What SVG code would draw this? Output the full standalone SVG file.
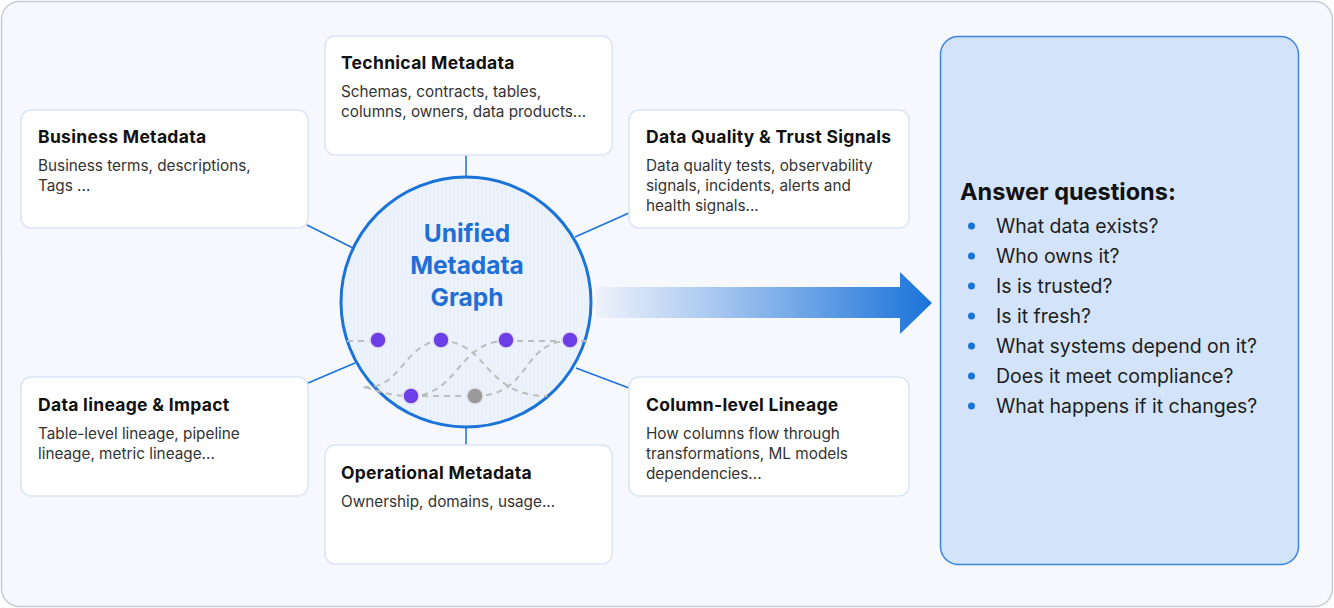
<svg xmlns="http://www.w3.org/2000/svg" width="1334" height="608" viewBox="0 0 1334 608">
<defs>
<linearGradient id="arrowGrad" x1="596" y1="0" x2="932" y2="0" gradientUnits="userSpaceOnUse">
<stop offset="0" stop-color="#eef2fb"/>
<stop offset="0.35" stop-color="#a9c8f0"/>
<stop offset="1" stop-color="#1a73d9"/>
</linearGradient>
<pattern id="dots" width="4" height="4" patternUnits="userSpaceOnUse">
<rect width="4" height="4" fill="#ebf2fb"/>
<circle cx="2" cy="2" r="0.5" fill="#dde7f5"/>
</pattern>
</defs>
<style>
.card{fill:#ffffff;stroke:#dae5f5;stroke-width:1.5}
.title{font-family:Inter,"Liberation Sans",sans-serif;font-weight:700;font-size:17.5px;letter-spacing:0.3px;fill:#111111}
.body{font-family:Inter,"Liberation Sans",sans-serif;font-size:15.3px;fill:#333333}
.conn{stroke:#1a73d9;stroke-width:1.5;fill:none}
.dash{stroke:#bdbdbd;stroke-width:2;stroke-dasharray:6 5;fill:none}
.node{fill:#6b3ee8;stroke:#e4e0f2;stroke-width:1.5}
.q{font-family:Inter,"Liberation Sans",sans-serif;font-size:19.5px;fill:#1e1e1e}
.bul{fill:#1a73d9}
.center{font-family:Inter,"Liberation Sans",sans-serif;font-weight:700;font-size:24.5px;fill:#1f6fd6;text-anchor:middle}
</style>
<rect x="1.5" y="1.5" width="1331" height="605" rx="18" fill="#f6f8fe" stroke="#c7cbd7" stroke-width="1.5"/>

<g id="connectors">
<line class="conn" x1="466" y1="155" x2="466" y2="178"/>
<line class="conn" x1="466" y1="426" x2="466" y2="445"/>
<line class="conn" x1="307" y1="225" x2="353" y2="248"/>
<line class="conn" x1="575" y1="237" x2="629" y2="213"/>
<line class="conn" x1="308" y1="383" x2="355" y2="363"/>
<line class="conn" x1="576" y1="368" x2="629" y2="388"/>
<path d="M596 287 H900 V272 L932 303 L900 334 V318 H596 Z" fill="url(#arrowGrad)"/>
</g>

<g id="business">
<rect class="card" x="21" y="110" width="287" height="118" rx="10"/>
<text class="title" x="38" y="143">Business Metadata</text>
<text class="body" x="38" y="171">Business terms, descriptions,</text>
<text class="body" x="38" y="191">Tags ...</text>
</g>

<g id="technical">
<rect class="card" x="325" y="36" width="287" height="119" rx="10"/>
<text class="title" x="341" y="69">Technical Metadata</text>
<text class="body" x="341" y="97">Schemas, contracts, tables,</text>
<text class="body" x="341" y="117">columns, owners, data products...</text>
</g>

<g id="quality">
<rect class="card" x="629" y="110" width="280" height="118" rx="10"/>
<text class="title" x="646" y="143">Data Quality &amp; Trust Signals</text>
<text class="body" x="646" y="171">Data quality tests, observability</text>
<text class="body" x="646" y="191">signals, incidents, alerts and</text>
<text class="body" x="646" y="211">health signals...</text>
</g>

<g id="lineage">
<rect class="card" x="21" y="377" width="287" height="119" rx="10"/>
<text class="title" x="38" y="411">Data lineage &amp; Impact</text>
<text class="body" x="38" y="439">Table-level lineage, pipeline</text>
<text class="body" x="38" y="459">lineage, metric lineage...</text>
</g>

<g id="operational">
<rect class="card" x="325" y="445" width="287" height="119" rx="10"/>
<text class="title" x="341" y="479">Operational Metadata</text>
<text class="body" x="341" y="507">Ownership, domains, usage...</text>
</g>

<g id="column">
<rect class="card" x="629" y="377" width="280" height="119" rx="10"/>
<text class="title" x="646" y="411">Column-level Lineage</text>
<text class="body" x="646" y="439">How columns flow through</text>
<text class="body" x="646" y="459">transformations, ML models</text>
<text class="body" x="646" y="479">dependencies...</text>
</g>

<g id="graph">
<circle cx="466" cy="302" r="125" fill="url(#dots)" stroke="#1a73d9" stroke-width="3"/>
<text class="center" x="467" y="242">Unified</text>
<text class="center" x="467" y="274">Metadata</text>
<text class="center" x="467" y="306">Graph</text>
<path class="dash" d="M347 341 L370 341"/>
<path class="dash" d="M441 341 C405 341 400 392 362 387"/>
<path class="dash" d="M365 387 C380 392 392 396 411 396"/>
<path class="dash" d="M411 396 L475 396"/>
<path class="dash" d="M411 396 C458 396 458 341 506 341"/>
<path class="dash" d="M441 341 C488 341 484 396 547 396"/>
<path class="dash" d="M475 396 C532 396 520 341 570 341"/>
<path class="dash" d="M506 341 L570 341"/>
<path class="dash" d="M570 341 L587 341"/>
<circle class="node" cx="378" cy="340" r="8"/>
<circle class="node" cx="441" cy="340" r="8"/>
<circle class="node" cx="506" cy="340" r="8"/>
<circle class="node" cx="570" cy="340" r="8"/>
<circle class="node" cx="411" cy="396" r="8"/>
<circle cx="475" cy="396" r="8" fill="#9a9a9a" stroke="#e2e2e2" stroke-width="1.5"/>
</g>

<g id="answers">
<rect x="940.5" y="36.5" width="358" height="528" rx="18" fill="#d3e3f9" stroke="#3a86e0" stroke-width="1.5"/>
<text x="960" y="200" font-family="Inter,'Liberation Sans',sans-serif" font-weight="700" font-size="23.5px" fill="#111111">Answer questions:</text>
<circle class="bul" cx="971.5" cy="226" r="3.5"/>
<circle class="bul" cx="971.5" cy="256" r="3.5"/>
<circle class="bul" cx="971.5" cy="286" r="3.5"/>
<circle class="bul" cx="971.5" cy="316" r="3.5"/>
<circle class="bul" cx="971.5" cy="346" r="3.5"/>
<circle class="bul" cx="971.5" cy="376" r="3.5"/>
<circle class="bul" cx="971.5" cy="406" r="3.5"/>
<text class="q" x="996" y="233">What data exists?</text>
<text class="q" x="996" y="263">Who owns it?</text>
<text class="q" x="996" y="293">Is is trusted?</text>
<text class="q" x="996" y="323">Is it fresh?</text>
<text class="q" x="996" y="353">What systems depend on it?</text>
<text class="q" x="996" y="383">Does it meet compliance?</text>
<text class="q" x="996" y="413">What happens if it changes?</text>
</g>
</svg>
